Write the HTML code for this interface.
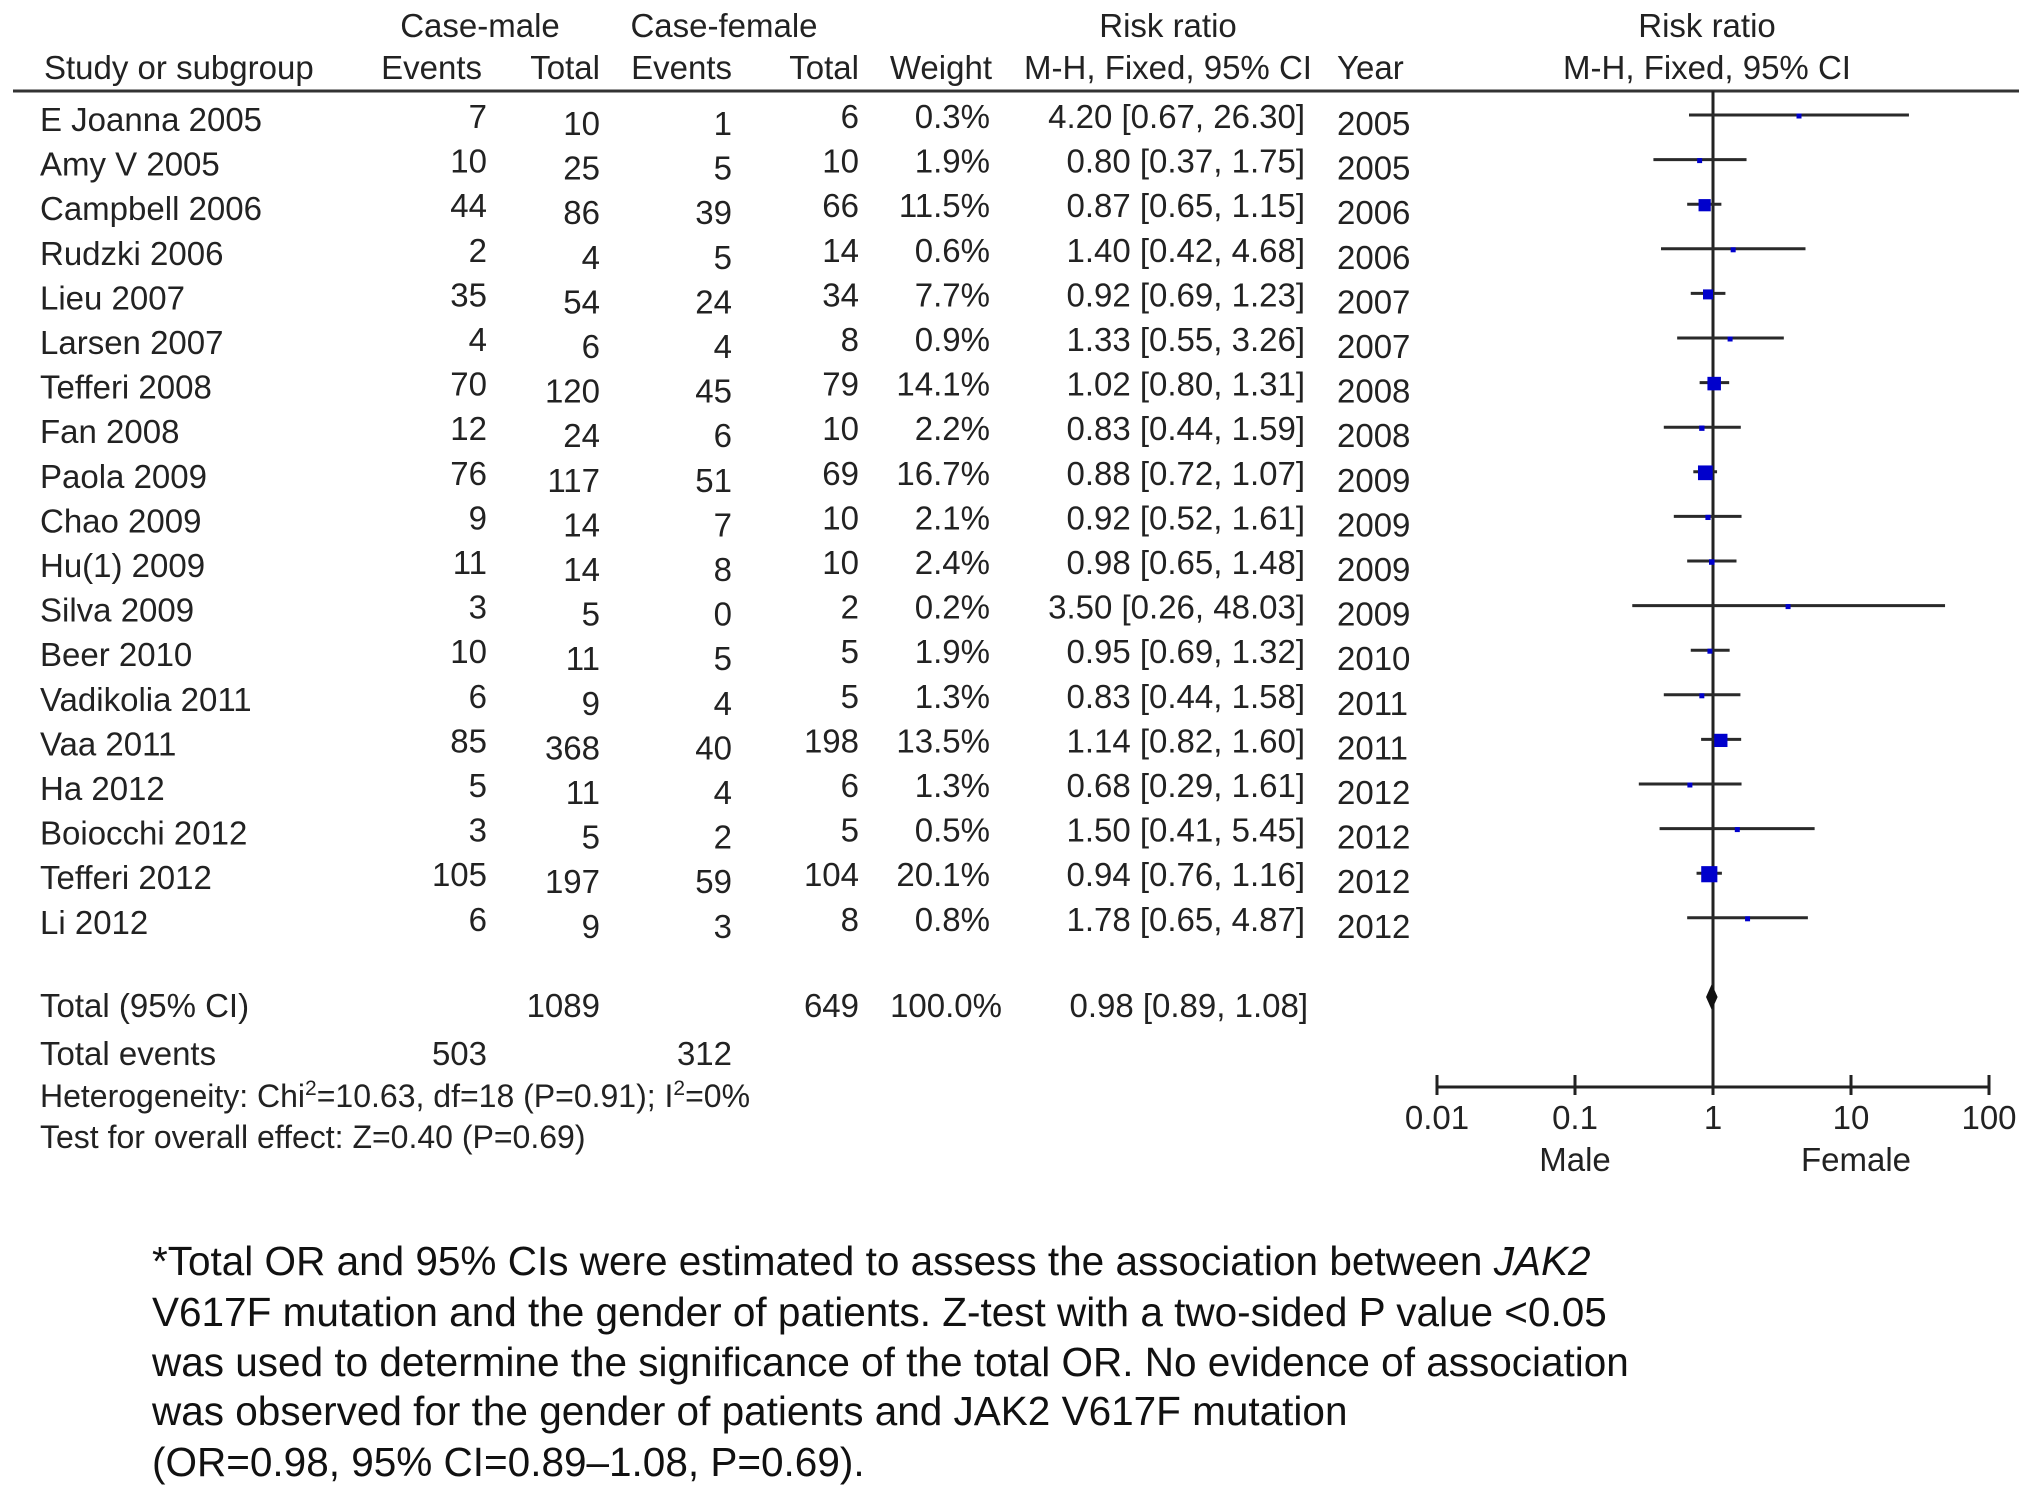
<!DOCTYPE html>
<html><head><meta charset="utf-8"><style>
html,body{margin:0;padding:0;background:#fff;}
svg{display:block;font-family:"Liberation Sans",Arial,sans-serif;}
</style></head><body>
<svg id="fp" width="2032" height="1497" viewBox="0 0 2032 1497" xmlns="http://www.w3.org/2000/svg">
<g font-size="33" fill="#222">
<text x="480" y="37" text-anchor="middle">Case-male</text>
<text x="724" y="37" text-anchor="middle">Case-female</text>
<text x="1168" y="37" text-anchor="middle">Risk ratio</text>
<text x="1707" y="37" text-anchor="middle">Risk ratio</text>
<text x="44" y="79">Study or subgroup</text>
<text x="482" y="79" text-anchor="end">Events</text>
<text x="600" y="79" text-anchor="end">Total</text>
<text x="732" y="79" text-anchor="end">Events</text>
<text x="859" y="79" text-anchor="end">Total</text>
<text x="992" y="79" text-anchor="end">Weight</text>
<text x="1168" y="79" text-anchor="middle">M-H, Fixed, 95% CI</text>
<text x="1337" y="79">Year</text>
<text x="1707" y="79" text-anchor="middle">M-H, Fixed, 95% CI</text>
</g>
<line x1="13" y1="91" x2="2019" y2="91" stroke="#333" stroke-width="3"/>
<g id="rows" font-size="33" fill="#222"></g>
<g id="plot"></g>
<g fill="#222">
<text x="40" y="1017" font-size="33">Total (95% CI)</text>
<text x="600" y="1017" font-size="33" text-anchor="end">1089</text>
<text x="859" y="1017" font-size="33" text-anchor="end">649</text>
<text x="1002" y="1017" font-size="33" text-anchor="end">100.0%</text>
<text x="1308" y="1017" font-size="33" text-anchor="end">0.98 [0.89, 1.08]</text>
<text x="40" y="1065" font-size="33">Total events</text>
<text x="487" y="1065" font-size="33" text-anchor="end">503</text>
<text x="732" y="1065" font-size="33" text-anchor="end">312</text>
<text x="40" y="1107" font-size="32">Heterogeneity: Chi<tspan font-size="21" dy="-12">2</tspan><tspan dy="12">=10.63, df=18 (P=0.91); I</tspan><tspan font-size="21" dy="-12">2</tspan><tspan dy="12">=0%</tspan></text>
<text x="40" y="1148" font-size="32">Test for overall effect: Z=0.40 (P=0.69)</text>
</g>
<g font-size="40.5" fill="#111">
<text x="152" y="1275">*Total OR and 95% CIs were estimated to assess the association between <tspan font-style="italic">JAK2</tspan></text>
<text x="152" y="1326">V617F mutation and the gender of patients. Z-test with a two-sided P value &lt;0.05</text>
<text x="152" y="1376">was used to determine the significance of the total OR. No evidence of association</text>
<text x="152" y="1425">was observed for the gender of patients and JAK2 V617F mutation</text>
<text x="152" y="1476">(OR=0.98, 95% CI=0.89–1.08, P=0.69).</text>
</g>
</svg>
<script>
const studies=["E Joanna 2005","Amy V 2005","Campbell 2006","Rudzki 2006","Lieu 2007","Larsen 2007","Tefferi 2008","Fan 2008","Paola 2009","Chao 2009","Hu(1) 2009","Silva 2009","Beer 2010","Vadikolia 2011","Vaa 2011","Ha 2012","Boiocchi 2012","Tefferi 2012","Li 2012"];
const maleEvents=[7,10,44,2,35,4,70,12,76,9,11,3,10,6,85,5,3,105,6];
const maleTotal=[10,25,86,4,54,6,120,24,117,14,14,5,11,9,368,11,5,197,9];
const femaleEvents=[1,5,39,5,24,4,45,6,51,7,8,0,5,4,40,4,2,59,3];
const femaleTotal=[6,10,66,14,34,8,79,10,69,10,10,2,5,5,198,6,5,104,8];
const weights=[0.3,1.9,11.5,0.6,7.7,0.9,14.1,2.2,16.7,2.1,2.4,0.2,1.9,1.3,13.5,1.3,0.5,20.1,0.8];
const rr=[4.20,0.80,0.87,1.40,0.92,1.33,1.02,0.83,0.88,0.92,0.98,3.50,0.95,0.83,1.14,0.68,1.50,0.94,1.78];
const lo=[0.67,0.37,0.65,0.42,0.69,0.55,0.80,0.44,0.72,0.52,0.65,0.26,0.69,0.44,0.82,0.29,0.41,0.76,0.65];
const hi=[26.30,1.75,1.15,4.68,1.23,3.26,1.31,1.59,1.07,1.61,1.48,48.03,1.32,1.58,1.60,1.61,5.45,1.16,4.87];
const years=[2005,2005,2006,2006,2007,2007,2008,2008,2009,2009,2009,2009,2010,2011,2011,2012,2012,2012,2012];
const totalRR=[0.98,0.89,1.08];
const tickVals=[0.01,0.1,1,10,100];
const tickLabels=["0.01","0.1","1","10","100"];

const NS="http://www.w3.org/2000/svg";
const xScale=v=>1713+138*Math.log10(v);
const rowY=i=>119+44.6*i;
function mk(tag,attrs,parent,txt){const e=document.createElementNS(NS,tag);for(const k in attrs)e.setAttribute(k,attrs[k]);if(txt!==undefined)e.textContent=txt;parent.appendChild(e);return e;}
const rows=document.getElementById('rows');
const plot=document.getElementById('plot');
const f2=v=>v.toFixed(2);
studies.forEach((s,i)=>{
  const y=rowY(i)+12;
  const g=mk('g',{},rows);
  
  
  let t;
  t=mk('text',{x:40,y:y},g,s);
  
  t=mk('text',{x:487,y:y-3,'text-anchor':'end'},g,maleEvents[i]);
  
  t=mk('text',{x:600,y:y+4,'text-anchor':'end'},g,maleTotal[i]);
  
  t=mk('text',{x:732,y:y+4,'text-anchor':'end'},g,femaleEvents[i]);
  
  t=mk('text',{x:859,y:y-3,'text-anchor':'end'},g,femaleTotal[i]);
  
  t=mk('text',{x:990,y:y-3,'text-anchor':'end'},g,weights[i].toFixed(1)+'%');
  
  t=mk('text',{x:1305,y:y-3,'text-anchor':'end'},g,f2(rr[i])+' ['+f2(lo[i])+', '+f2(hi[i])+']');
  
  t=mk('text',{x:1337,y:y+4},g,years[i]);
  
});
let l=mk('line',{x1:xScale(1),y1:91,x2:xScale(1),y2:1088,stroke:'#222','stroke-width':3},plot);

studies.forEach((s,i)=>{
  const cy=rowY(i)-4;
  let c=mk('line',{x1:xScale(lo[i]),y1:cy,x2:xScale(hi[i]),y2:cy,stroke:'#2a2a2a','stroke-width':3},plot);
  
  const sz=Math.max(5,3.6*Math.sqrt(weights[i]));
  let r=mk('rect',{x:xScale(rr[i])-sz/2,y:cy-sz/2+1,width:sz,height:sz,fill:'#0000cc'},plot);
  
});
const dy=997;
let d=mk('polygon',{points:`${xScale(totalRR[1])},${dy} ${xScale(totalRR[0])},${dy-13} ${xScale(totalRR[2])},${dy} ${xScale(totalRR[0])},${dy+13}`,fill:'#111'},plot);

let ax=mk('line',{x1:xScale(tickVals[0]),y1:1087,x2:xScale(tickVals[tickVals.length-1]),y2:1087,stroke:'#222','stroke-width':3},plot);

tickVals.forEach((v,i)=>{
  let tk=mk('line',{x1:xScale(v),y1:1075,x2:xScale(v),y2:1095,stroke:'#222','stroke-width':3},plot);
  
  let tl=mk('text',{x:xScale(v),y:1129,'text-anchor':'middle','font-size':33,fill:'#222'},plot,tickLabels[i]);
  
});
let m=mk('text',{x:xScale(0.1),y:1171,'text-anchor':'middle','font-size':33,fill:'#222'},plot,'Male');

let fe=mk('text',{x:xScale(10)+5,y:1171,'text-anchor':'middle','font-size':33,fill:'#222'},plot,'Female');

</script>
</body></html>
